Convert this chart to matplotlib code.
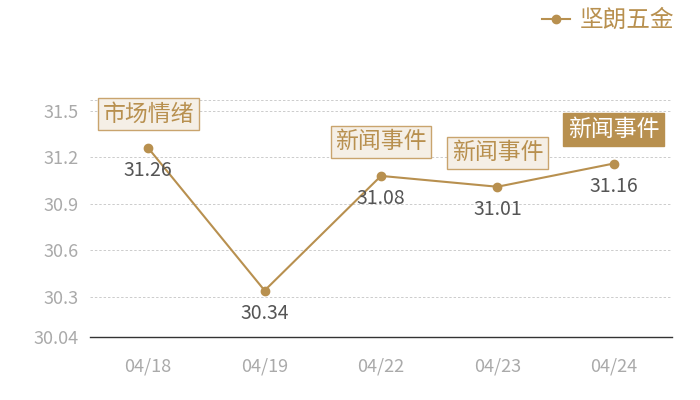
import matplotlib
matplotlib.use("Agg")
import matplotlib.pyplot as plt

plt.rcParams['font.family'] = ['Noto Sans CJK SC', 'DejaVu Sans']

dates = ["04/18", "04/19", "04/22", "04/23", "04/24"]
prices = [31.26, 30.34, 31.08, 31.01, 31.16]
events = ["市场情绪", None, "新闻事件", "新闻事件", "新闻事件"]
highlight = [False, False, False, False, True]
yticks = [30.04, 30.3, 30.6, 30.9, 31.2, 31.5]
series_name = "坚朗五金"

gold = "#B8904F"
fig = plt.figure(figsize=(7, 4), dpi=100)
ax = fig.add_axes([0.1286, 0.1575, 0.8314, 0.5925])

xs = list(range(len(dates)))
ax.plot(xs, prices, color=gold, lw=1.5, marker="o", ms=6, label=series_name, zorder=3)

ax.set_xlim(-0.5, len(dates) - 0.5)
ax.set_ylim(30.04, 31.57)
ax.set_yticks(yticks)
ax.set_yticklabels([f"{v:g}" for v in yticks])
ax.set_xticks(xs)
ax.set_xticklabels(dates)
ax.tick_params(axis="both", length=0, colors="#AAAAAA", labelsize=13)
ax.tick_params(axis="x", pad=15)
ax.tick_params(axis="y", pad=8)

for v in yticks[1:] + [31.57]:
    ax.axhline(v, color="#CCCCCC", lw=0.7, ls=(0, (2.5, 2)), zorder=1)
for s in ["top", "right", "left"]:
    ax.spines[s].set_visible(False)
ax.spines["bottom"].set_color("#333333")
ax.spines["bottom"].set_linewidth(1)

for x, y, ev, hl in zip(xs, prices, events, highlight):
    ax.annotate(f"{y:.2f}", (x, y), xytext=(0, -16.5), textcoords="offset points",
                ha="center", va="center", fontsize=14, color="#555555", zorder=4)
    if ev:
        if hl:
            bb = dict(boxstyle="square,pad=0.2", fc=gold, ec=gold, lw=1)
            tc = "white"
        else:
            bb = dict(boxstyle="square,pad=0.2", fc="#F5EFE6", ec="#C9A46E", lw=1)
            tc = gold
        ax.annotate(ev, (x, y), xytext=(0, 24.5), textcoords="offset points",
                    ha="center", va="center", fontsize=16.5, color=tc, bbox=bb,
                    zorder=5, annotation_clip=False)

fig.legend(loc="upper right", bbox_to_anchor=(0.993, 1.03), frameon=False,
           fontsize=17, labelcolor=gold, handlelength=1.2, handletextpad=0.4)

fig.savefig("out.png", dpi=100)
